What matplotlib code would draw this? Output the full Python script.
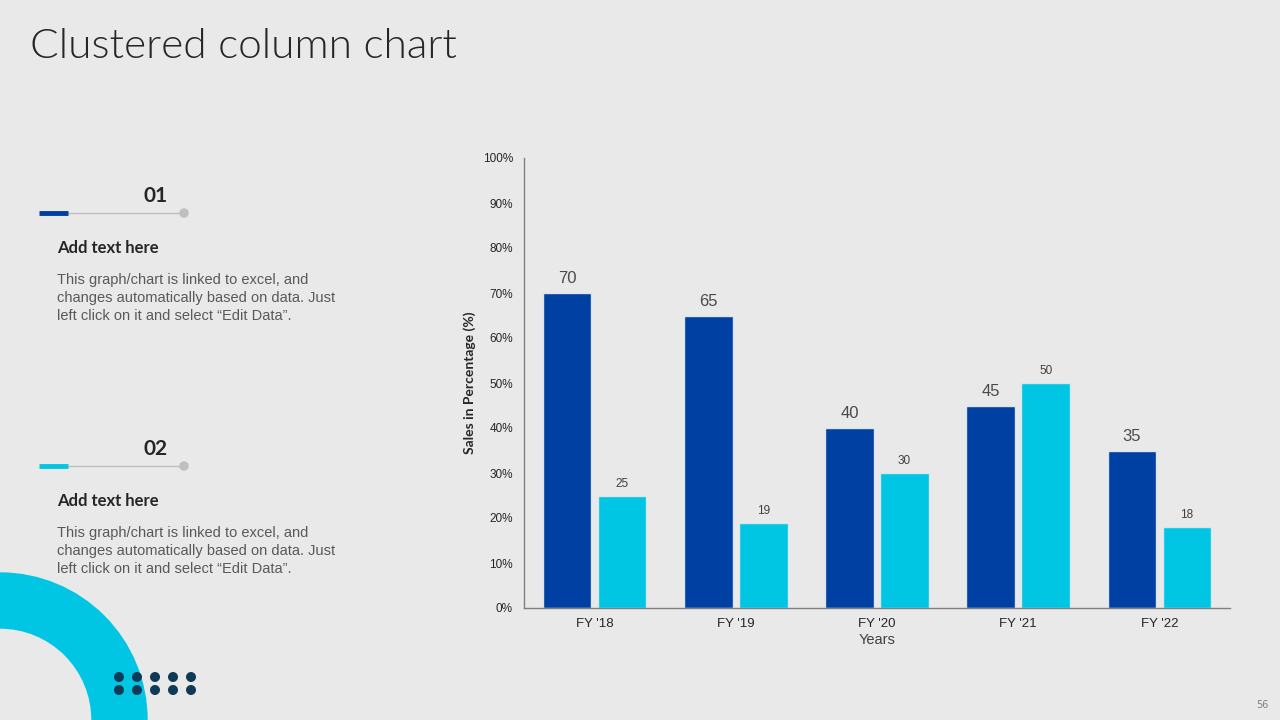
import numpy as np
import matplotlib
matplotlib.use("Agg")
import matplotlib.pyplot as plt
from matplotlib.patches import Wedge, Circle

# chart data
years = ["FY '18", "FY '19", "FY '20", "FY '21", "FY '22"]
series_a = [70, 65, 40, 45, 35]
series_b = [25, 19, 30, 50, 18]
y_ticks = [0, 10, 20, 30, 40, 50, 60, 70, 80, 90, 100]

# slide text
title = "Clustered column chart"
block_nums = ["01", "02"]
block_heads = ["Add text here", "Add text here"]
block_body = ["This graph/chart is linked to excel, and\nchanges automatically based on data. Just\nleft click on it and select \u201cEdit Data\u201d."] * 2
page_no = "56"

BG = "#e9e9e9"
DARK = "#0040a2"
CYAN = "#00c6e3"
NAVY = "#0e3a58"

fig = plt.figure(figsize=(12.8, 7.2), dpi=100, facecolor=BG)

# overlay in pixel coordinates for the slide decorations
deco = fig.add_axes([0, 0, 1, 1], zorder=0)
deco.set_xlim(0, 1280)
deco.set_ylim(720, 0)
deco.set_axis_off()
deco.set_facecolor(BG)

deco.text(30, 46, title, fontsize=30.5, color="#262626", family="Lato",
          weight=300, va="center", ha="left")

# the two text blocks on the left
for i, off in enumerate([0, 253]):
    accent = DARK if i == 0 else CYAN
    deco.text(168, 196 + off, block_nums[i], fontsize=15, weight="bold",
              color="#262626", ha="right", va="center", family="Lato")
    deco.plot([68, 184], [213 + off, 213 + off], color="#bfbfbf", lw=1, zorder=1)
    deco.plot([39, 68], [213 + off, 213 + off], color=accent, lw=3.5,
              solid_capstyle="butt", zorder=2)
    deco.add_patch(Circle((184, 213 + off), 4, color="#bfbfbf", zorder=2))
    deco.text(57, 248 + off, block_heads[i], fontsize=12, weight="bold",
              color="#262626", ha="left", va="center", family="Lato")
    deco.text(57, 273 + off, block_body[i], fontsize=10.5, color="#595959",
              ha="left", va="top", family="Liberation Sans", linespacing=1.36)

# quarter ring bottom-left
deco.add_patch(Wedge((0, 720), 147, 270, 360, width=55, color=CYAN, zorder=1))
for cx in [119, 137, 155, 173, 191]:
    for cy in [677, 690]:
        deco.add_patch(Circle((cx, cy), 4.3, color=NAVY, zorder=3))

deco.text(1262, 705, page_no, fontsize=7, color="#7f7f7f", ha="center", va="center")

# the chart
ax = fig.add_axes([524 / 1280, 1 - 608 / 720, 706 / 1280, 450 / 720], zorder=1)
ax.set_facecolor("none")
x = np.arange(len(years))
w = 0.345
bars_a = ax.bar(x - 0.195, series_a, w, color=DARK, edgecolor="#dbe5ee", lw=1)
bars_b = ax.bar(x + 0.195, series_b, w, color=CYAN, edgecolor="#dbe5ee", lw=1)

for b, v in zip(bars_a, series_a):
    ax.annotate(str(v), (b.get_x() + b.get_width() / 2, v), xytext=(0, 5),
                textcoords="offset points", ha="center", va="bottom",
                fontsize=12, color="#4a4a4a", family="Liberation Sans")
for b, v in zip(bars_b, series_b):
    ax.annotate(str(v), (b.get_x() + b.get_width() / 2, v), xytext=(0, 4),
                textcoords="offset points", ha="center", va="bottom",
                fontsize=8.5, color="#404040", family="Liberation Sans")

ax.set_xlim(-0.5, len(years) - 0.5)
ax.set_ylim(0, 100)
ax.set_yticks(y_ticks)
ax.set_yticklabels([f"{t}%" for t in y_ticks], family="Liberation Sans",
                   fontsize=8.5, color="#262626")
ax.set_xticks(x)
ax.set_xticklabels(years, family="Liberation Sans", fontsize=9.5, color="#262626")
ax.tick_params(axis="both", length=0)
ax.tick_params(axis="y", pad=8)
ax.tick_params(axis="x", pad=7)
for s in ["top", "right"]:
    ax.spines[s].set_visible(False)
for s in ["left", "bottom"]:
    ax.spines[s].set_color("#7f7f7f")
    ax.spines[s].set_linewidth(1)

ax.set_xlabel("Years", family="Liberation Sans", fontsize=10.5, color="#404040",
              labelpad=2)
ax.set_ylabel("Sales in Percentage (%)", family="Lato", fontsize=10,
              weight="bold", color="#262626", labelpad=5)

fig.savefig("out.png", dpi=100, facecolor=BG)
